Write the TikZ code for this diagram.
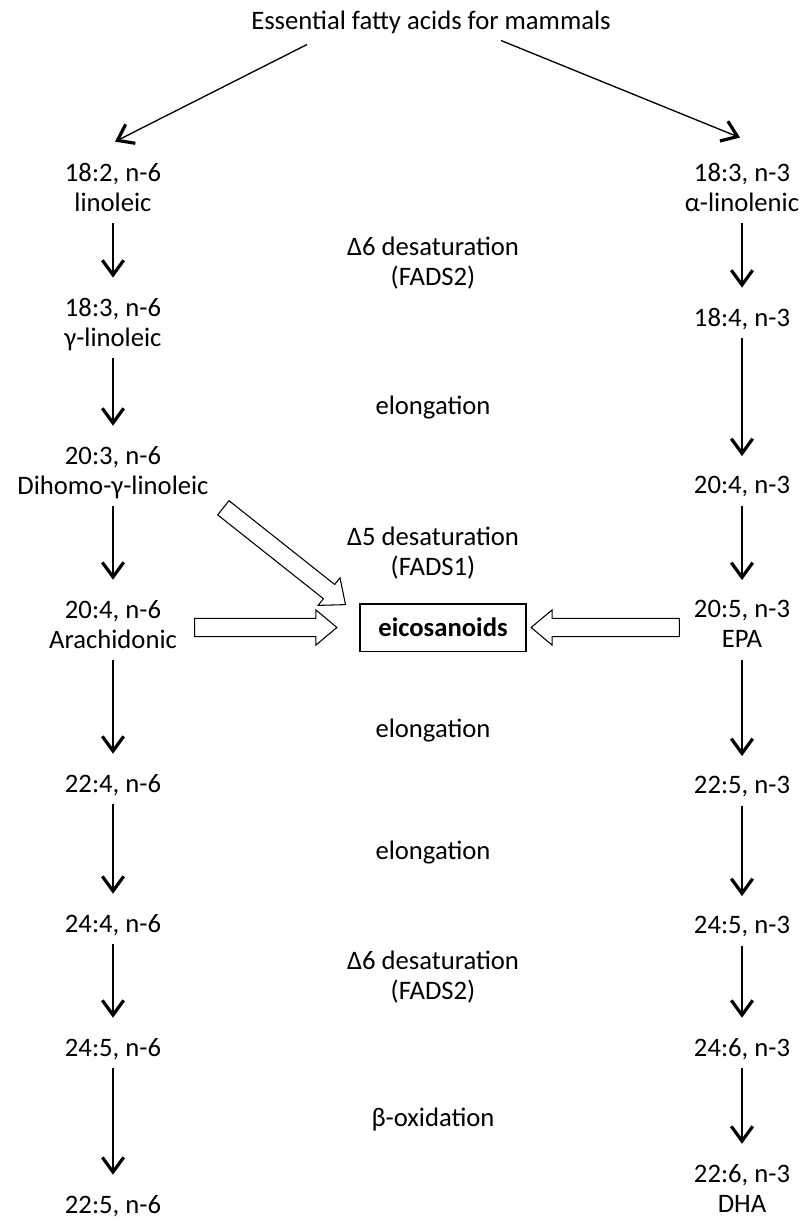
\documentclass[tikz,border=0pt]{standalone}
\usepackage{fontspec}
\setmainfont{Carlito}
\usetikzlibrary{arrows.meta,calc,shapes.arrows}
\newcommand{\labelsize}{\fontsize{20}{22.5}\selectfont}
\tikzset{
  acid/.style={align=center, inner sep=0pt, text depth=0pt},
  enz/.style={align=center, inner sep=0pt, text depth=0pt},
  sink/.style={draw, line width=0.8pt, inner sep=0pt, minimum width=124.5pt,
    minimum height=35.3pt, font=\labelsize\bfseries},
  feed/.style={-{Straight Barb[length=11pt,width=16pt,line width=2.4pt]}, line width=1pt},
  flow/.style={feed, shorten <=9pt, shorten >=15pt},
  hollow/.style={single arrow, draw, line width=0.8pt, inner sep=6.4pt,
    single arrow head extend=6.4pt, single arrow tip angle=80},
}
\newcommand{\hollowarrow}[3]{%
  \path let \p1=(#2), \p2=(#3),
    \n1={atan2(\y2-\y1,\x2-\x1)}, \n2={veclen(\x2-\x1,\y2-\y1)} in
    node[hollow, rotate=\n1, minimum height=\n2] (#1) at ($(\p1)!0.5!(\p2)$) {};%
}

\begin{document}
\begin{tikzpicture}[x=0.75pt, y=-0.75pt, font=\labelsize]
\path[use as bounding box, fill=white] (0,0) rectangle (803,1220);

% ------------------------------------------------- title
\node[acid] (title) at (431,20) {Essential fatty acids for mammals};

% ------------------------------------------------- n-6 series
\node[acid] (L1) at (113,187)  {18:2, n-6\\linoleic};
\node[acid] (L2) at (113,322)  {18:3, n-6\\γ-linoleic};
\node[acid] (L3) at (113,470)  {20:3, n-6\\Dihomo-γ-linoleic};
\node[acid] (L4) at (113,624)  {20:4, n-6\\Arachidonic};
\node[acid] (L5) at (113,783)  {22:4, n-6};
\node[acid] (L6) at (113,923)  {24:4, n-6};
\node[acid] (L7) at (113,1047) {24:5, n-6};
\node[acid] (L8) at (113,1204) {22:5, n-6};

% ------------------------------------------------- n-3 series
\node[acid] (R1) at (742,187)  {18:3, n-3\\α-linolenic};
\node[acid] (R2) at (742,317)  {18:4, n-3};
\node[acid] (R3) at (742,485)  {20:4, n-3};
\node[acid] (R4) at (742,624)  {20:5, n-3\\EPA};
\node[acid] (R5) at (742,785)  {22:5, n-3};
\node[acid] (R6) at (742,925)  {24:5, n-3};
\node[acid] (R7) at (742,1047) {24:6, n-3};
\node[acid] (R8) at (742,1188) {22:6, n-3\\DHA};

% ------------------------------------------------- steps
\node[enz] (d6a) at (433,261)  {Δ6 desaturation\\(FADS2)};
\node[enz] (el1) at (433,405)  {elongation};
\node[enz] (d5)  at (433,551)  {Δ5 desaturation\\(FADS1)};
\node[enz] (el2) at (433,728)  {elongation};
\node[enz] (el3) at (433,850)  {elongation};
\node[enz] (d6b) at (433,975)  {Δ6 desaturation\\(FADS2)};
\node[enz] (box) at (433,1117) {β-oxidation};

\node[sink] (eico) at (443,627.5) {eicosanoids};

% ------------------------------------------------- arrows
\coordinate (sL) at ($(title.south)+(-124,15)$);
\coordinate (sR) at ($(title.south)+(70,11)$);
\coordinate (eL) at ($(L1.north)+(2,-21)$);
\coordinate (eR) at ($(R1.north)+(-2,-25)$);
\draw[feed] (sL) -- (eL);
\draw[feed] (sR) -- (eR);

\foreach \a/\b in {L1/L2,L2/L3,L3/L4,L4/L5,L5/L6,L6/L7,L7/L8,
                   R1/R2,R2/R3,R3/R4,R4/R5,R5/R6,R6/R7,R7/R8}
  \draw[flow] (\a) -- (\b);

\coordinate (hA) at ($(L3.south east)+(10,10)$);
\coordinate (hB) at ($(eico.north west)+(-18,-2)$);
\coordinate (hC) at ($(L4.east)+(12,0)$);
\coordinate (hD) at ($(eico.west)+(-28,0)$);
\coordinate (hE) at ($(R4.west)+(-9,0)$);
\coordinate (hF) at ($(eico.east)+(10,0)$);
\hollowarrow{dgla}{hA}{hB}
\hollowarrow{ara}{hC |- eico}{hD}
\hollowarrow{epa}{hE |- eico}{hF}

\end{tikzpicture}
\end{document}
